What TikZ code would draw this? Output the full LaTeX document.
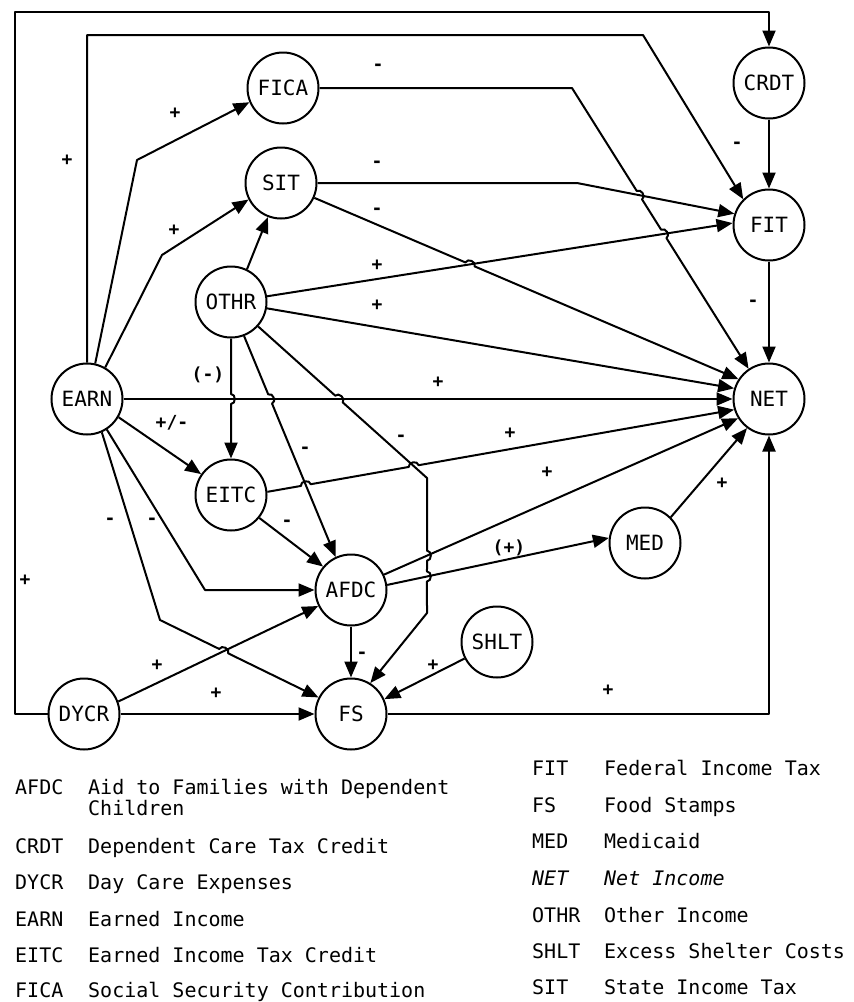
\documentclass[tikz,border=0pt]{standalone}
\usepackage{fontspec}
\newfontfamily\tw{DejaVu Sans Mono}
\usetikzlibrary{arrows.meta,calc}
\newcommand\hop[3]{-- ($(#2)!5pt!(#1)$) to[bend left=90,looseness=1.3] ($(#2)!5pt!(#3)$)}
\tikzset{
  var/.style={circle, draw, line width=2pt, minimum size=71pt, inner sep=0pt,
    font=\tw\fontsize{21}{24}\selectfont},
  link/.style={line width=2pt, line join=round, -{Triangle[length=16pt,width=13pt]}},
  sgn/.style={inner sep=0pt, font=\tw\bfseries\fontsize{18}{20}\selectfont},
  lg/.style={anchor=base west, inner sep=0pt, font=\tw\fontsize{20}{22}\selectfont},
}
\begin{document}
\begin{tikzpicture}[x=1pt,y=-1pt]
\useasboundingbox (0,0) rectangle (854,1002);
% nodes
\node[var] (FICA) at (283,88) {FICA};
\node[var] (SIT)  at (281,183) {SIT};
\node[var] (OTHR) at (231,302) {OTHR};
\node[var] (EARN) at (87,399) {EARN};
\node[var] (EITC) at (231,495) {EITC};
\node[var] (AFDC) at (351,590) {AFDC};
\node[var] (DYCR) at (84,714) {DYCR};
\node[var] (FS)   at (351,714) {FS};
\node[var] (SHLT) at (497,642) {SHLT};
\node[var] (MED)  at (645,543) {MED};
\node[var] (NET)  at (769,399) {NET};
\node[var] (FIT)  at (769,225) {FIT};
\node[var] (CRDT) at (769,83) {CRDT};
% anchor coordinates
\coordinate (oS) at (OTHR.south); \coordinate (eiN) at (EITC.north);
\coordinate (eE) at (EARN.east);  \coordinate (nW) at (NET.180);
\coordinate (o2) at (OTHR.-69);   \coordinate (a115) at (AFDC.115);
\coordinate (o3) at (OTHR.-42);   \coordinate (fsb1) at (427,478);
\coordinate (fsb2) at (427,613);  \coordinate (fs58) at (FS.58);
\coordinate (ei5) at (EITC.5);    \coordinate (n197) at (NET.197);
\coordinate (a25) at (AFDC.25);   \coordinate (n212) at (NET.212);
\coordinate (a8) at (AFDC.8);     \coordinate (m172) at (MED.172);
\coordinate (e66) at (EARN.-66);  \coordinate (efb) at (160,620);
\coordinate (fs153) at (FS.153);
\coordinate (d20) at (DYCR.20);   \coordinate (a206) at (AFDC.206);
\coordinate (s2) at (SIT.-24);    \coordinate (n147) at (NET.147);
\coordinate (o8) at (OTHR.9);     \coordinate (f177) at (FIT.177);
\coordinate (fiE) at (FICA.east); \coordinate (fnb) at (572,88);
\coordinate (n124) at (NET.124);
\coordinate (sE) at (SIT.east);   \coordinate (sfb) at (577,183);
\coordinate (f162) at (FIT.162);
\coordinate (lp1) at (15,714); \coordinate (lp2) at (15,12); \coordinate (lp3) at (769,12);
\coordinate (ep1) at (87,35); \coordinate (ep2) at (643,35);
\coordinate (fk1) at (137,160); \coordinate (sk1) at (162,255);
\coordinate (ek1) at (205,590);
\coordinate (nk1) at (769,714);
% crossings
\coordinate (X1) at (intersection of oS--eiN and eE--nW);
\coordinate (X2) at (intersection of o2--a115 and eE--nW);
\coordinate (X3) at (intersection of o3--fsb1 and eE--nW);
\coordinate (X4) at (intersection of ei5--n197 and o2--a115);
\coordinate (X5) at (intersection of ei5--n197 and o3--fsb1);
\coordinate (X6) at (intersection of fsb1--fsb2 and a25--n212);
\coordinate (X7) at (intersection of fsb1--fsb2 and a8--m172);
\coordinate (X8) at (intersection of efb--fs153 and d20--a206);
\coordinate (X9) at (intersection of s2--n147 and o8--f177);
\coordinate (X10) at (intersection of fnb--n124 and sfb--f162);
\coordinate (X11) at (intersection of fnb--n124 and o8--f177);
% connectors
\draw[link] (DYCR.west) -- (lp1) -- (lp2) -- (lp3) -- (CRDT.north);
\draw[link] (EARN.north) -- (ep1) -- (ep2) -- (FIT.135);
\draw[link] (EARN.77) -- (fk1) -- (FICA.203);
\draw[link] (EARN.60) -- (sk1) -- (SIT.207);
\draw[link] (OTHR.64) -- (SIT.249);
\draw[link] (sE) -- (sfb) -- (f162);
\draw[link] (o8) -- (f177);
\draw[link] (OTHR.-10) -- (NET.163);
\draw[link] (eE) -- (nW);
\draw[link] (EARN.-30) -- (EITC.145);
\draw[link] (EARN.-57) -- (ek1) -- (AFDC.west);
\draw[link] (EITC.-39) -- (AFDC.140);
\draw[link] (a25) -- (n212);
\draw[link] (a8) -- (m172);
\draw[link] (AFDC.south) -- (FS.north);
\draw[link] (MED.45) -- (NET.233);
\draw[link] (SHLT.207) -- (FS.24);
\draw[link] (d20) -- (a206);
\draw[link] (DYCR.east) -- (FS.west);
\draw[link] (FS.east) -- (nk1) -- (NET.south);
\draw[link] (FIT.south) -- (NET.north);
\draw[link] (CRDT.south) -- (FIT.north);
% connectors with hops
\draw[link] (oS) \hop{oS}{X1}{eiN} -- (eiN);
\draw[link] (o2) \hop{o2}{X2}{a115} -- (a115);
\draw[link] (o3) \hop{o3}{X3}{fsb1} -- (fsb1) \hop{fsb1}{X6}{fsb2} \hop{X6}{X7}{fsb2} -- (fsb2) -- (fs58);
\draw[link] (ei5) \hop{ei5}{X4}{n197} \hop{X4}{X5}{n197} -- (n197);
\draw[link] (e66) -- (efb) \hop{efb}{X8}{fs153} -- (fs153);
\draw[link] (s2) \hop{s2}{X9}{n147} -- (n147);
\draw[link] (fiE) -- (fnb) \hop{fnb}{X10}{n124} \hop{X10}{X11}{n124} -- (n124);
% signs
\node[sgn] (s01) at (67,160) {+};
\node[sgn] (s02) at (175,113) {+};
\node[sgn] (s03) at (378,67) {-};
\node[sgn] (s04) at (25,580) {+};
\node[sgn] (s05) at (737,145) {-};
\node[sgn] (s06) at (174,230) {+};
\node[sgn] (s07) at (377,164) {-};
\node[sgn] (s08) at (377,211) {-};
\node[sgn] (s09) at (377,265) {+};
\node[sgn] (s10) at (377,305) {+};
\node[sgn] (s11) at (753,303) {-};
\node[sgn] (s12) at (208,375) {(-)};
\node[sgn] (s13) at (438,382) {+};
\node[sgn] (s14) at (172,423) {+/-};
\node[sgn] (s15) at (305,450) {-};
\node[sgn] (s16) at (401,438) {-};
\node[sgn] (s17) at (510,433) {+};
\node[sgn] (s18) at (547,472) {+};
\node[sgn] (s19) at (287,523) {-};
\node[sgn] (s20) at (110,521) {-};
\node[sgn] (s21) at (152,521) {-};
\node[sgn] (s22) at (509,548) {(+)};
\node[sgn] (s23) at (722,483) {+};
\node[sgn] (s24) at (362,655) {-};
\node[sgn] (s25) at (433,665) {+};
\node[sgn] (s26) at (157,665) {+};
\node[sgn] (s27) at (216,693) {+};
\node[sgn] (s28) at (608,690) {+};
% legend left
\node[lg] (la1) at (15,794) {AFDC};
\node[lg] (lb1) at (88,794) {Aid to Families with Dependent};
\node[lg] (lb1b) at (88,815) {Children};
\node[lg] (la2) at (15,853) {CRDT};
\node[lg] (lb2) at (88,853) {Dependent Care Tax Credit};
\node[lg] (la3) at (15,889) {DYCR};
\node[lg] (lb3) at (88,889) {Day Care Expenses};
\node[lg] (la4) at (15,926) {EARN};
\node[lg] (lb4) at (88,926) {Earned Income};
\node[lg] (la5) at (15,962) {EITC};
\node[lg] (lb5) at (88,962) {Earned Income Tax Credit};
\node[lg] (la6) at (15,997) {FICA};
\node[lg] (lb6) at (88,997) {Social Security Contribution};
% legend right
\node[lg] (ra1) at (532,775) {FIT};
\node[lg] (rb1) at (604,775) {Federal Income Tax};
\node[lg] (ra2) at (532,812) {FS};
\node[lg] (rb2) at (604,812) {Food Stamps};
\node[lg] (ra3) at (532,848) {MED};
\node[lg] (rb3) at (604,848) {Medicaid};
\node[lg,font=\tw\itshape\fontsize{20}{22}\selectfont] (ra4) at (532,885) {NET};
\node[lg,font=\tw\itshape\fontsize{20}{22}\selectfont] (rb4) at (604,885) {Net Income};
\node[lg] (ra5) at (532,922) {OTHR};
\node[lg] (rb5) at (604,922) {Other Income};
\node[lg] (ra6) at (532,958) {SHLT};
\node[lg] (rb6) at (604,958) {Excess Shelter Costs};
\node[lg] (ra7) at (532,994) {SIT};
\node[lg] (rb7) at (604,994) {State Income Tax};
\end{tikzpicture}
\end{document}
